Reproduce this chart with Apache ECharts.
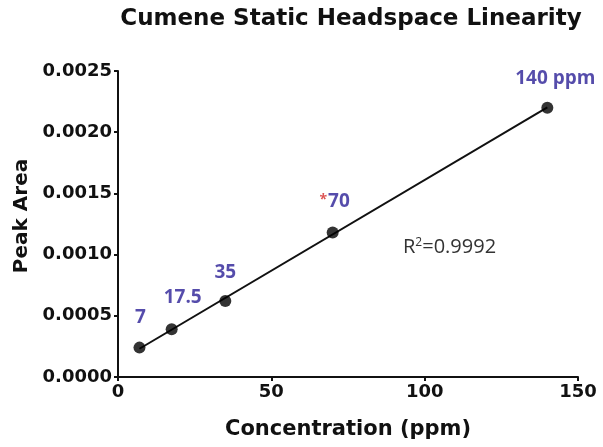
<!DOCTYPE html>
<html>
<head>
<meta charset="utf-8">
<script src="https://cdn.jsdelivr.net/npm/echarts@6/dist/echarts.min.js"></script>
<style>
  html, body { margin: 0; padding: 0; background: #fff; }
  #main { width: 603px; height: 447px; }
</style>
</head>
<body>
<div id="main"></div>
<script>
// concentrations (ppm) and measured peak areas
const concentrations = [7, 17.5, 35, 70, 140]
const peakAreas = [0.00024, 0.00039, 0.00062, 0.00118, 0.0022]
const pointLabels = ['7', '17.5', '35', '*70', '140 ppm']
const xTicks = [0, 50, 100, 150]
const yTicks = [0, 0.0005, 0.001, 0.0015, 0.002, 0.0025]
const rSquared = '0.9992'

// least squares fit for the line
const n = concentrations.length
const mx = concentrations.reduce((a, b) => a + b, 0) / n
const my = peakAreas.reduce((a, b) => a + b, 0) / n
let sxy = 0, sxx = 0
concentrations.forEach((x, i) => {
    sxy += (x - mx) * (peakAreas[i] - my)
    sxx += (x - mx) * (x - mx)
})
const slope = sxy / sxx
const intercept = my - slope * mx
const xMin = Math.min(...concentrations)
const xMax = Math.max(...concentrations)
const fitLine = [[xMin, intercept + slope * xMin], [xMax, intercept + slope * xMax]]

// label offsets, px [dx, dy]
const labelOffsets = [[1, -2], [11, -3], [0, 0], [2, -2], [8, -1]]

const blue = '#2a1f96'
const axisFont = { fontFamily: 'DejaVu Sans', fontWeight: 'bold', color: '#111' }

const chart = echarts.init(document.getElementById('main'), null, { renderer: 'canvas' })

chart.setOption({
    animation: false,
    backgroundColor: '#fff',
    title: {
        text: 'Cumene Static Headspace Linearity',
        left: 346,
        top: 3,
        textAlign: 'center',
        textStyle: { fontFamily: 'DejaVu Sans', fontWeight: 'bold', fontSize: 23, color: '#111' }
    },
    grid: { left: 118, right: 25, top: 71, bottom: 70 },
    xAxis: {
        type: 'value',
        min: xTicks[0],
        max: xTicks[xTicks.length - 1],
        interval: xTicks[1] - xTicks[0],
        name: 'Concentration (ppm)',
        nameLocation: 'middle',
        nameGap: 42,
        nameTextStyle: Object.assign({ fontSize: 21 }, axisFont),
        splitLine: { show: false },
        axisLine: { onZero: false, lineStyle: { color: '#111', width: 2 } },
        axisTick: { length: 4, lineStyle: { color: '#111', width: 2 } },
        axisLabel: Object.assign({ fontSize: 18, margin: 6, showMinLabel: true, showMaxLabel: true }, axisFont)
    },
    yAxis: {
        type: 'value',
        min: yTicks[0],
        max: yTicks[yTicks.length - 1],
        interval: yTicks[1] - yTicks[0],
        name: 'Peak Area',
        nameLocation: 'middle',
        nameGap: 86,
        nameTextStyle: Object.assign({ fontSize: 20, padding: [0, 0, 0, 16] }, axisFont),
        splitLine: { show: false },
        axisLine: { show: true, onZero: false, lineStyle: { color: '#111', width: 2 } },
        axisTick: { show: true, length: 4, lineStyle: { color: '#111', width: 2 } },
        axisLabel: Object.assign({
            fontSize: 18, margin: 6,
            formatter: v => v.toFixed(4)
        }, axisFont)
    },
    series: [
        {
            type: 'line',
            data: fitLine,
            showSymbol: false,
            lineStyle: { color: '#111', width: 2 },
            silent: true,
            z: 2
        },
        {
            type: 'scatter',
            symbol: 'circle',
            symbolSize: 12,
            itemStyle: { color: '#000' },
            z: 3,
            data: concentrations.map((x, i) => ({
                value: [x, peakAreas[i]],
                label: {
                    show: true,
                    position: 'top',
                    distance: 13,
                    offset: labelOffsets[i],
                    formatter: pointLabels[i].startsWith('*')
                        ? '{star|*}{b|' + pointLabels[i].slice(1) + '}'
                        : '{b|' + pointLabels[i] + '}',
                    rich: {
                        b: { fontFamily: 'Open Sans', fontWeight: 'bold', fontSize: 19, color: blue },
                        star: { fontFamily: 'Open Sans', fontWeight: 'bold', fontSize: 14, color: '#d42a2a', verticalAlign: 'top', padding: [0, 1, 5, 0] }
                    }
                }
            }))
        }
    ],
    graphic: [
        {
            type: 'text',
            left: 403,
            top: 237,
            style: {
                text: '{t|R}{s|2}{t|=' + rSquared + '}',
                rich: {
                    t: { fontFamily: 'Open Sans', fontSize: 20, fill: '#333', color: '#333' },
                    s: { fontFamily: 'Open Sans', fontSize: 12, fill: '#333', color: '#333', verticalAlign: 'top', padding: [0, 0, 9, 0] }
                }
            }
        }
    ]
})
</script>
</body>
</html>
